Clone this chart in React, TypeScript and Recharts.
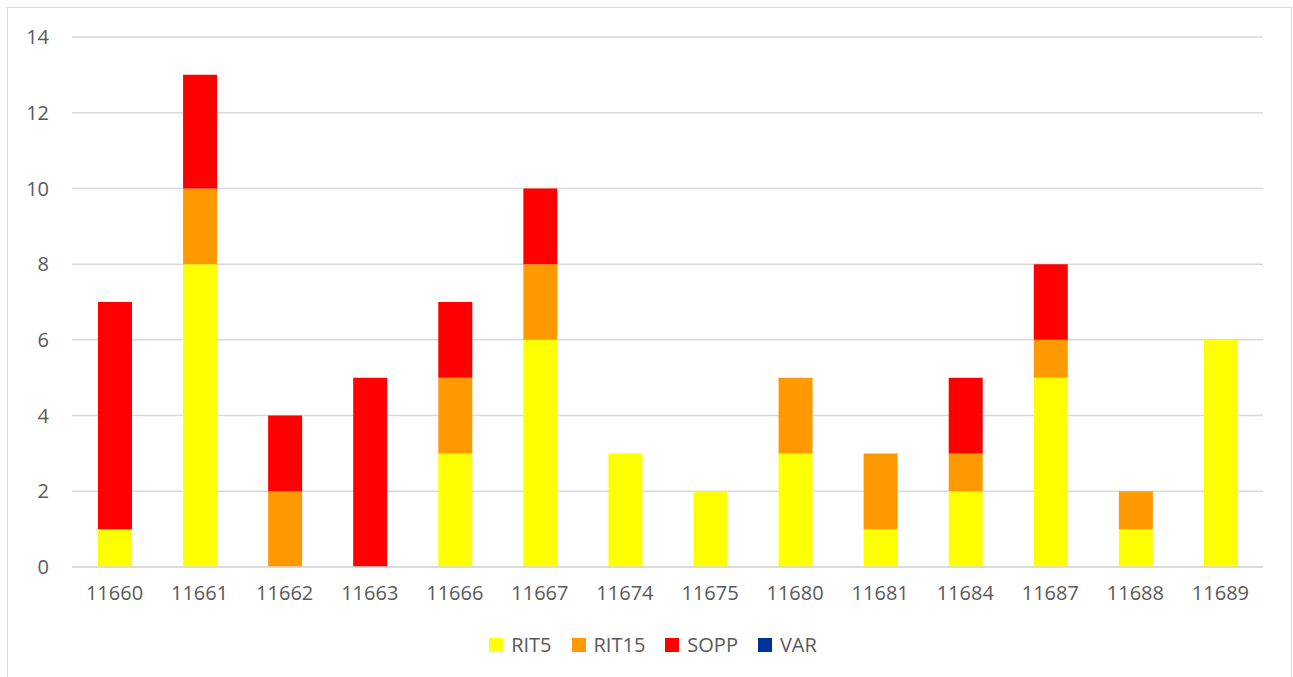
import { BarChart, Bar, XAxis, YAxis, CartesianGrid, Legend } from 'recharts';

const categories = ['11660', '11661', '11662', '11663', '11666', '11667', '11674', '11675', '11680', '11681', '11684', '11687', '11688', '11689'];
const rit5 = [1, 8, 0, 0, 3, 6, 3, 2, 3, 1, 2, 5, 1, 6];
const rit15 = [0, 2, 2, 0, 2, 2, 0, 0, 2, 2, 1, 1, 1, 0];
const sopp = [6, 3, 2, 5, 2, 2, 0, 0, 0, 0, 2, 2, 0, 0];
const varr = [0, 0, 0, 0, 0, 0, 0, 0, 0, 0, 0, 0, 0, 0];
const yTicks = [0, 2, 4, 6, 8, 10, 12, 14];

const series = [
  { key: 'RIT5', color: '#FFFF00' },
  { key: 'RIT15', color: '#FF9900' },
  { key: 'SOPP', color: '#FF0000' },
  { key: 'VAR', color: '#003399' },
];

const data = categories.map((name, i) => ({
  name,
  RIT5: rit5[i],
  RIT15: rit15[i],
  SOPP: sopp[i],
  VAR: varr[i],
}));

const FONT = '"Open Sans", Roboto, sans-serif';
const TEXT = '#595959';
const FS = 20;

function LegendContent() {
  return (
    <div style={{ display: 'flex', justifyContent: 'center', alignItems: 'center', fontFamily: FONT, fontSize: FS, color: TEXT, lineHeight: '20px', paddingLeft: 27 }}>
      {series.map((s) => (
        <div key={s.key} style={{ display: 'flex', alignItems: 'center', marginRight: 20 }}>
          <span style={{ display: 'inline-block', width: 14, height: 14, background: s.color, marginRight: 8 }} />
          <span>{s.key}</span>
        </div>
      ))}
    </div>
  );
}

export default function App() {
  return (
    <div style={{ position: 'absolute', left: 7, top: 7, width: 1285, height: 680, border: '1px solid #d9d9d9', boxSizing: 'border-box', background: '#fff' }}>
      <BarChart width={1283} height={670} data={data} margin={{ top: 29, right: 28, bottom: 41, left: 0 }} barSize={34}>
        <CartesianGrid vertical={false} stroke="#d9d9d9" strokeWidth={1.5} />
        <XAxis
          dataKey="name"
          axisLine={{ stroke: '#d9d9d9', strokeWidth: 1.5 }}
          tickLine={false}
          tickSize={0}
          tickMargin={19}
          height={30}
          tick={{ fill: TEXT, fontSize: FS, fontFamily: FONT }}
        />
        <YAxis
          domain={[0, 14]}
          ticks={yTicks}
          axisLine={false}
          tickLine={false}
          tickSize={0}
          tickMargin={23}
          width={64}
          tick={{ fill: TEXT, fontSize: FS, fontFamily: FONT }}
        />
        <Legend
          verticalAlign="bottom"
          height={40}
          content={<LegendContent />}
          wrapperStyle={{ left: 0, width: 1283, top: 627, bottom: 'auto' }}
        />
        {series.map((s) => (
          <Bar key={s.key} dataKey={s.key} stackId="a" fill={s.color} isAnimationActive={false} />
        ))}
      </BarChart>
    </div>
  );
}
